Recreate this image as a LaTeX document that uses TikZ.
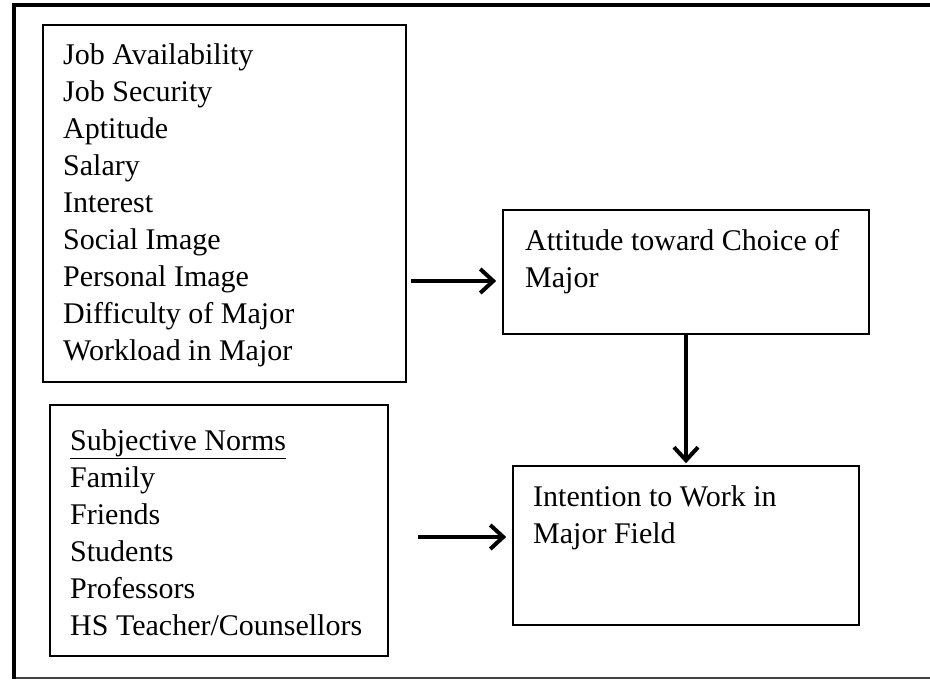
\documentclass[tikz,border=0pt]{standalone}
\usepackage{fontspec}
\setmainfont{Liberation Serif}
\usetikzlibrary{arrows.meta,calc}
\begin{document}
\begin{tikzpicture}[x=1pt,y=-1pt,
  box/.style={draw=black,line width=1.6pt,rectangle,inner sep=0pt},
  lbl/.style={anchor=base west,inner sep=0pt,font=\fontsize{30}{37}\selectfont},
  conn/.style={line width=4pt,-{Straight Barb[length=13pt,width=24pt]}}]
\useasboundingbox (0,0) rectangle (930,680);
% outer frame
\draw[line width=1.5pt,draw=black!75] (14,678) -- (935,678);
\draw[line width=4pt] (14,679) -- (14,4.5) -- (935,4.5);
% boxes
\node[box,line width=2pt,minimum width=363pt,minimum height=357pt] (b1) at (224.5,203.5) {};
\node[box,minimum width=366pt,minimum height=124pt] (b2) at (686,272) {};
\node[box,minimum width=338pt,minimum height=251pt] (b3) at (219,530.5) {};
\node[box,minimum width=346pt,minimum height=159pt] (b4) at (686,545.5) {};
% texts
\foreach \t [count=\i from 0] in {Job Availability,Job Security,Aptitude,Salary,Interest,Social Image,Personal Image,Difficulty of Major,Workload in Major}
  \node[lbl] (t1-\i) at (63,64+37*\i) {\t};
\node[lbl] (t2-0) at (525,250) {Attitude toward Choice of};
\node[lbl] (t2-1) at (525,287) {Major};
\node[lbl] (t3-0) at (70,450) {\underline{Subjective Norms}};
\foreach \t [count=\i from 1] in {Family,Friends,Students,Professors,HS Teacher/Counsellors}
  \node[lbl] (t3-\i) at (70,450+37*\i) {\t};
\node[lbl] (t4-0) at (533,506) {Intention to Work in};
\node[lbl] (t4-1) at (533,543) {Major Field};
% connectors
\coordinate (a1s) at (411,281);
\coordinate (a2s) at (418,537);
\draw[conn] (a1s) -- ([xshift=-6pt]b2.west |- a1s);
\draw[conn] (a2s) -- ([xshift=-6pt]b4.west |- a2s);
\draw[conn] (b2.south) -- ([yshift=2pt]b4.north);
\end{tikzpicture}
\end{document}
